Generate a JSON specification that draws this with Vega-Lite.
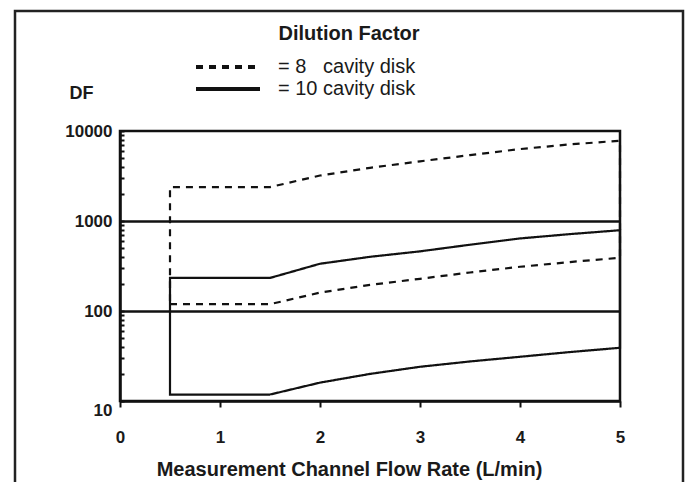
{
  "$schema": "https://vega.github.io/schema/vega-lite/v6.json",
  "width": 500,
  "height": 270,
  "autosize": {"type": "none"},
  "padding": {"left": 120, "top": 131, "right": 65, "bottom": 81},
  "background": "white",
  "title": {
    "text": "Dilution Factor",
    "font": "Liberation Sans",
    "fontSize": 20,
    "fontWeight": "bold",
    "color": "#1a1a1a",
    "anchor": "middle",
    "dx": -21,
    "baseline": "alphabetic",
    "offset": -50
  },
  "config": {
    "view": {"stroke": "#111", "strokeWidth": 2.5},
    "axis": {"labelFont": "Liberation Sans", "titleFont": "Liberation Sans", "labelColor": "#1a1a1a", "titleColor": "#1a1a1a"}
  },
  "datasets": {
    "curves": [
      {"disk": "8 cavity disk", "ord": 1, "flow": 0.5, "df": 119},
      {"disk": "8 cavity disk", "ord": 2, "flow": 1.5, "df": 119},
      {"disk": "8 cavity disk", "ord": 3, "flow": 2.0, "df": 160},
      {"disk": "8 cavity disk", "ord": 4, "flow": 2.5, "df": 195},
      {"disk": "8 cavity disk", "ord": 5, "flow": 3.0, "df": 228},
      {"disk": "8 cavity disk", "ord": 6, "flow": 3.5, "df": 268},
      {"disk": "8 cavity disk", "ord": 7, "flow": 4.0, "df": 310},
      {"disk": "8 cavity disk", "ord": 8, "flow": 4.5, "df": 350},
      {"disk": "8 cavity disk", "ord": 9, "flow": 5.0, "df": 390},
      {"disk": "8 cavity disk", "ord": 10, "flow": 5.0, "df": 7800},
      {"disk": "8 cavity disk", "ord": 11, "flow": 4.5, "df": 7100},
      {"disk": "8 cavity disk", "ord": 12, "flow": 4.0, "df": 6300},
      {"disk": "8 cavity disk", "ord": 13, "flow": 3.5, "df": 5400},
      {"disk": "8 cavity disk", "ord": 14, "flow": 3.0, "df": 4600},
      {"disk": "8 cavity disk", "ord": 15, "flow": 2.5, "df": 3900},
      {"disk": "8 cavity disk", "ord": 16, "flow": 2.0, "df": 3200},
      {"disk": "8 cavity disk", "ord": 17, "flow": 1.5, "df": 2380},
      {"disk": "8 cavity disk", "ord": 18, "flow": 0.5, "df": 2380},
      {"disk": "10 cavity disk", "ord": 1, "flow": 0.5, "df": 11.8},
      {"disk": "10 cavity disk", "ord": 2, "flow": 1.5, "df": 11.8},
      {"disk": "10 cavity disk", "ord": 3, "flow": 2.0, "df": 16},
      {"disk": "10 cavity disk", "ord": 4, "flow": 2.5, "df": 20},
      {"disk": "10 cavity disk", "ord": 5, "flow": 3.0, "df": 24},
      {"disk": "10 cavity disk", "ord": 6, "flow": 3.5, "df": 27.5},
      {"disk": "10 cavity disk", "ord": 7, "flow": 4.0, "df": 31},
      {"disk": "10 cavity disk", "ord": 8, "flow": 4.5, "df": 35},
      {"disk": "10 cavity disk", "ord": 9, "flow": 5.0, "df": 39},
      {"disk": "10 cavity disk", "ord": 10, "flow": 5.0, "df": 790},
      {"disk": "10 cavity disk", "ord": 11, "flow": 4.5, "df": 715},
      {"disk": "10 cavity disk", "ord": 12, "flow": 4.0, "df": 640},
      {"disk": "10 cavity disk", "ord": 13, "flow": 3.5, "df": 545},
      {"disk": "10 cavity disk", "ord": 14, "flow": 3.0, "df": 460},
      {"disk": "10 cavity disk", "ord": 15, "flow": 2.5, "df": 400},
      {"disk": "10 cavity disk", "ord": 16, "flow": 2.0, "df": 335},
      {"disk": "10 cavity disk", "ord": 17, "flow": 1.5, "df": 233},
      {"disk": "10 cavity disk", "ord": 18, "flow": 0.5, "df": 233}
    ]
  },
  "layer": [
    {
      "data": {"name": "curves"},
      "mark": {"type": "line", "color": "#111", "strokeWidth": 2.2, "interpolate": "linear-closed", "clip": false},
      "encoding": {
        "x": {
          "field": "flow",
          "type": "quantitative",
          "scale": {"domain": [0, 5], "nice": false, "zero": false},
          "axis": {
            "values": [0, 1, 2, 3, 4, 5],
            "format": "d",
            "title": "Measurement Channel Flow Rate (L/min)",
            "titleFontSize": 20,
            "titleFontWeight": "bold",
            "titleX": 229,
            "titleY": 74,
            "titleBaseline": "alphabetic",
            "titleAlign": "center",
            "labelFontSize": 17,
            "labelFontWeight": "bold",
            "labelPadding": 22,
            "labelFlush": false,
            "tickSize": 6,
            "tickWidth": 2,
            "tickColor": "#111",
            "domainColor": "#111",
            "domainWidth": 2.5,
            "grid": false
          }
        },
        "y": {
          "field": "df",
          "type": "quantitative",
          "scale": {"type": "log", "domain": [10, 10000], "nice": false},
          "axis": {
            "values": [10, 20, 30, 40, 50, 60, 70, 80, 90, 100, 200, 300, 400, 500, 600, 700, 800, 900, 1000, 2000, 3000, 4000, 5000, 6000, 7000, 8000, 9000, 10000],
            "labelExpr": "(datum.value == 10 || datum.value == 100 || datum.value == 1000 || datum.value == 10000) ? format(datum.value, 'd') : ''",
            "title": "DF",
            "titleAngle": 0,
            "titleFontSize": 18,
            "titleFontWeight": "bold",
            "titleX": -39,
            "titleY": -33,
            "titleAlign": "center",
            "titleBaseline": "alphabetic",
            "labelFontSize": 17,
            "labelFontWeight": "bold",
            "labelPadding": 12,
            "labelFlush": false,
            "labelOffset": {"expr": "datum.value == 10 ? 9 : 0"},
            "tickSize": -4,
            "tickWidth": 2,
            "tickColor": "#111",
            "domainColor": "#111",
            "domainWidth": 2.5,
            "grid": true,
            "gridColor": "#111",
            "gridWidth": 2.5,
            "gridOpacity": {"expr": "(datum.value == 100 || datum.value == 1000) ? 1 : 0"}
          }
        },
        "order": {"field": "ord", "type": "quantitative"},
        "strokeDash": {
          "field": "disk",
          "type": "nominal",
          "scale": {"domain": ["8 cavity disk", "10 cavity disk"], "range": [[7, 6], [1, 0]]},
          "legend": {
            "orient": "none",
            "legendX": 74,
            "legendY": -75,
            "title": null,
            "symbolType": "stroke",
            "symbolSize": 4096,
            "symbolStrokeWidth": 4,
            "symbolStrokeColor": "#111",
            "labelFont": "Liberation Sans",
            "labelFontSize": 20,
            "labelColor": "#1a1a1a",
            "labelOffset": 16,
            "clipHeight": 22,
            "rowPadding": 0,
            "labelExpr": "datum.value == '8 cavity disk' ? '= 8\u00a0\u00a0 cavity disk' : '= 10 cavity disk'"
          }
        }
      }
    },
    {
      "data": {"values": [{}]},
      "mark": {"type": "rect", "filled": false, "stroke": "#222", "strokeWidth": 2.5, "clip": false},
      "encoding": {
        "x": {"datum": -1.05, "type": "quantitative"},
        "x2": {"datum": 5.63},
        "y": {"datum": 215000, "type": "quantitative"},
        "y2": {"datum": 0.5}
      }
    }
  ]
}
